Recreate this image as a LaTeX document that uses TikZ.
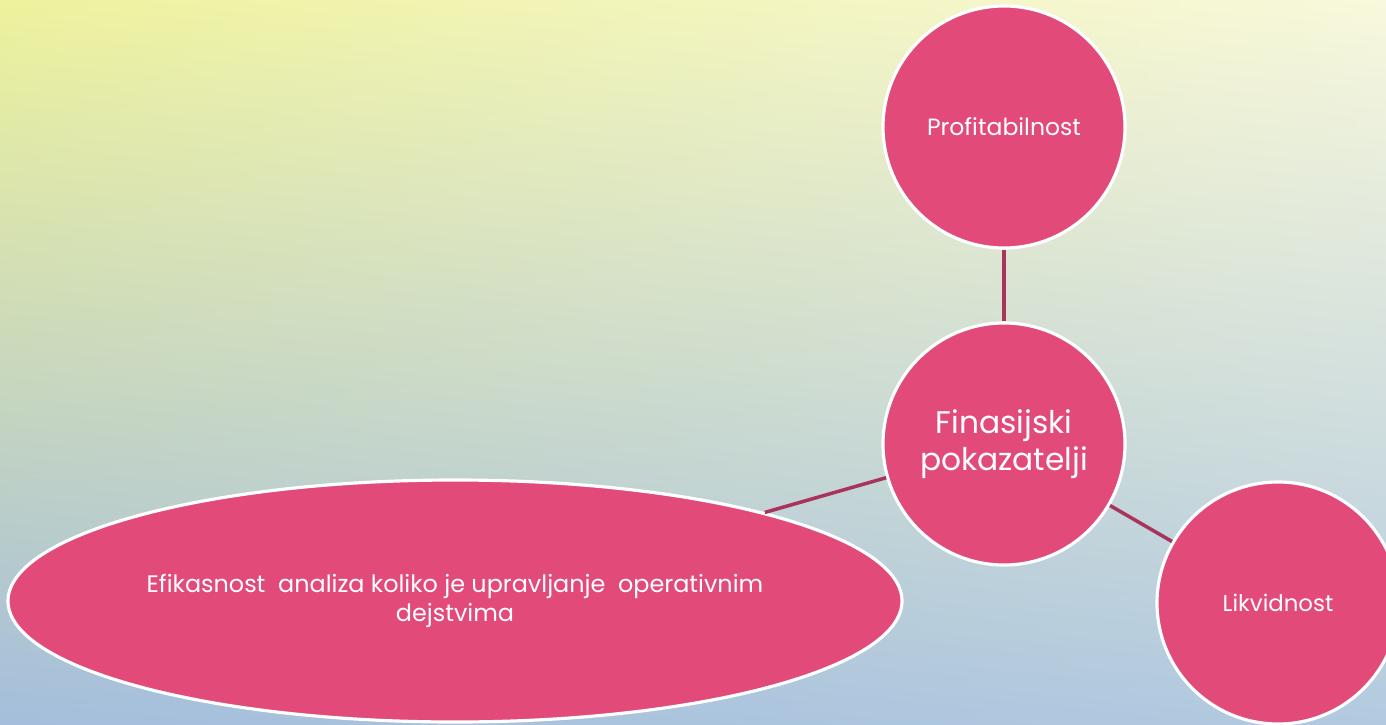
\documentclass[tikz,border=0pt]{standalone}
\usepackage{fontspec}
\setmainfont{Poppins}
\usetikzlibrary{shapes.geometric, shadings}
\definecolor{bubblepink}{RGB}{226,74,122}
\definecolor{linkred}{RGB}{168,52,92}
\definecolor{bgyellow}{RGB}{238,242,156}
\definecolor{bgcream}{RGB}{248,248,220}
\definecolor{bgblue}{RGB}{164,190,220}
\definecolor{bgblueb}{RGB}{178,202,224}

\begin{document}
\begin{tikzpicture}[
    bubble/.style={circle, minimum size=2.42cm, inner sep=0pt, fill=bubblepink, draw=white, line width=0.9pt, text=white, align=center},
    oval/.style={ellipse, minimum width=8.94cm, minimum height=2.42cm, inner sep=0pt, fill=bubblepink, draw=white, line width=0.9pt, text=white, align=center},
    link/.style={draw=linkred, line width=1pt}
]

% Background
\useasboundingbox (0,0) rectangle (13.86,7.24);
\clip (0,0) rectangle (13.86,7.24);
\shade[upper left=bgyellow, upper right=bgcream, lower left=bgblue, lower right=bgblueb] (0,0) rectangle (13.86,7.24);

% Bubbles
\node[bubble, font=\fontsize{6.7}{8}\selectfont] (profit) at (10.04,5.97) {Profitabilnost};
\node[bubble, font=\fontsize{8.9}{10.5}\selectfont] (finance) at (10.04,2.80) {Finasijski\\pokazatelji};
\node[bubble, font=\fontsize{6.5}{8}\selectfont] (liquid) at (12.78,1.21) {Likvidnost};
\node[oval, font=\fontsize{6.8}{8}\selectfont] (efficiency) at (4.55,1.23) {Efikasnost~ analiza koliko je upravljanje~ operativnim\\dejstvima};

% Links to the centre
\draw[link] (finance) -- (profit);
\draw[link] (finance) -- (efficiency);
\draw[link] (finance) -- (liquid);

\end{tikzpicture}
\end{document}
